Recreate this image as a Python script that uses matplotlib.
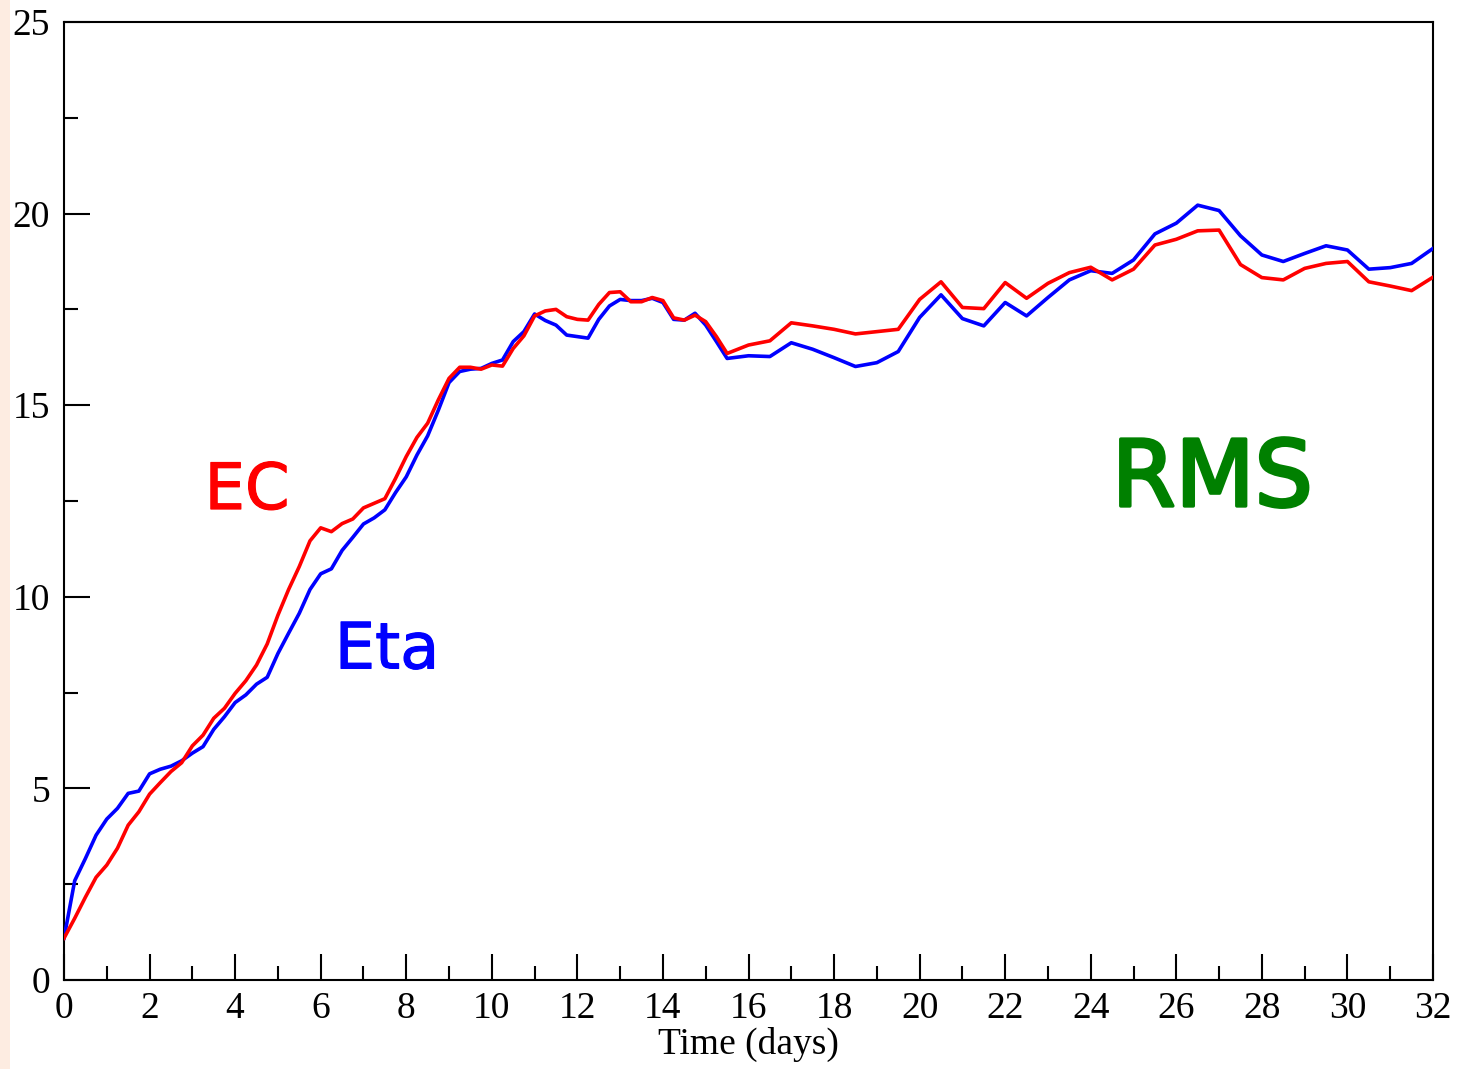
import matplotlib
matplotlib.use("Agg")

import matplotlib.pyplot as plt
import matplotlib.patheffects as pe
import numpy as np
from matplotlib.patches import Rectangle
from matplotlib.ticker import MultipleLocator

# sampling: every 6 h up to day 15.5, then every 12 h
time_fine = np.arange(0.0, 15.51, 0.25)
time_coarse = np.arange(16.0, 32.01, 0.5)
time_days = np.concatenate([time_fine, time_coarse])

rms_ec = [
    1.09, 1.61, 2.16, 2.68, 3.00, 3.44, 4.04, 4.39, 4.85, 5.15,
    5.44, 5.67, 6.11, 6.39, 6.83, 7.09, 7.48, 7.81, 8.22, 8.77,
    9.52, 10.19, 10.79, 11.46, 11.80, 11.70, 11.91, 12.03, 12.32, 12.44,
    12.56, 13.09, 13.66, 14.16, 14.53, 15.14, 15.70, 15.99, 15.99, 15.94,
    16.05, 16.02, 16.48, 16.81, 17.33, 17.46, 17.50, 17.31, 17.24, 17.22,
    17.63, 17.94, 17.96, 17.70, 17.70, 17.81, 17.73, 17.28, 17.22, 17.35,
    17.18, 16.79, 16.35,
    16.57, 16.68, 17.15, 17.07, 16.98, 16.86, 16.92, 16.98, 17.76, 18.22,
    17.55, 17.52, 18.20, 17.79, 18.18, 18.46, 18.60, 18.27, 18.55, 19.18,
    19.33, 19.55, 19.57, 18.67, 18.33, 18.27, 18.57, 18.70, 18.75, 18.22,
    18.11, 17.99, 18.34,
]

rms_eta = [
    1.09, 2.59, 3.17, 3.78, 4.20, 4.48, 4.87, 4.93, 5.38, 5.50,
    5.58, 5.72, 5.92, 6.09, 6.54, 6.87, 7.24, 7.44, 7.72, 7.90,
    8.52, 9.05, 9.57, 10.19, 10.60, 10.73, 11.21, 11.55, 11.90, 12.06,
    12.27, 12.72, 13.13, 13.70, 14.20, 14.87, 15.59, 15.88, 15.94, 15.96,
    16.09, 16.18, 16.66, 16.92, 17.38, 17.21, 17.09, 16.83, 16.79, 16.75,
    17.24, 17.59, 17.76, 17.73, 17.73, 17.79, 17.68, 17.24, 17.22, 17.40,
    17.09, 16.66, 16.22,
    16.29, 16.27, 16.63, 16.46, 16.24, 16.01, 16.11, 16.40, 17.29, 17.88,
    17.26, 17.07, 17.68, 17.33, 17.81, 18.27, 18.51, 18.44, 18.79, 19.47,
    19.75, 20.22, 20.08, 19.42, 18.92, 18.75, 18.96, 19.16, 19.05, 18.55,
    18.59, 18.70, 19.09,
]

W, H = 1457, 1069


def label(ax, x, y, text, color, size, stroke):
    t = ax.text(x, y, text, color=color, fontsize=size, ha="center", va="center",
                fontfamily="DejaVu Sans")
    t.set_path_effects([pe.withStroke(linewidth=stroke, foreground=color)])
    return t


def main():
    fig = plt.figure(figsize=(W / 100, H / 100), dpi=100)
    fig.patches.append(Rectangle((0, 0), 10 / W, 1, transform=fig.transFigure,
                                 facecolor="#fdece1", edgecolor="none", zorder=0))

    ax = fig.add_axes([64 / W, 89 / H, 1369 / W, 958 / H])

    ax.plot(time_days, rms_eta, color="#0000ff", lw=2.6, zorder=3)
    ax.plot(time_days, rms_ec, color="#ff0000", lw=2.6, zorder=4)

    ax.set_xlim(0, 32)
    ax.set_ylim(0, 25)
    ax.xaxis.set_major_locator(MultipleLocator(2))
    ax.xaxis.set_minor_locator(MultipleLocator(1))
    ax.yaxis.set_major_locator(MultipleLocator(5))
    ax.yaxis.set_minor_locator(MultipleLocator(2.5))

    serif = "Liberation Serif"
    ax.tick_params(which="both", direction="in", top=False, right=False, width=1.5)
    ax.tick_params(which="major", length=19)
    ax.tick_params(which="minor", length=10)
    ax.tick_params(axis="x", which="major", pad=8)
    ax.tick_params(axis="y", which="major", pad=10)
    for lbl in ax.get_xticklabels() + ax.get_yticklabels():
        lbl.set_fontfamily(serif)
        lbl.set_fontsize(27)

    for side in ax.spines.values():
        side.set_linewidth(1.5)

    ax.set_xlabel("Time (days)", fontfamily=serif, fontsize=27, labelpad=1)

    label(ax, 4.28, 12.76, "EC", "#ff0000", 46, 0.8)
    label(ax, 7.55, 8.6, "Eta", "#0000ff", 46, 0.8)
    label(ax, 26.84, 13.05, "RMS", "#008000", 66, 2.5)

    fig.savefig("out.png", dpi=100)
    plt.close(fig)


if __name__ == "__main__":
    main()
